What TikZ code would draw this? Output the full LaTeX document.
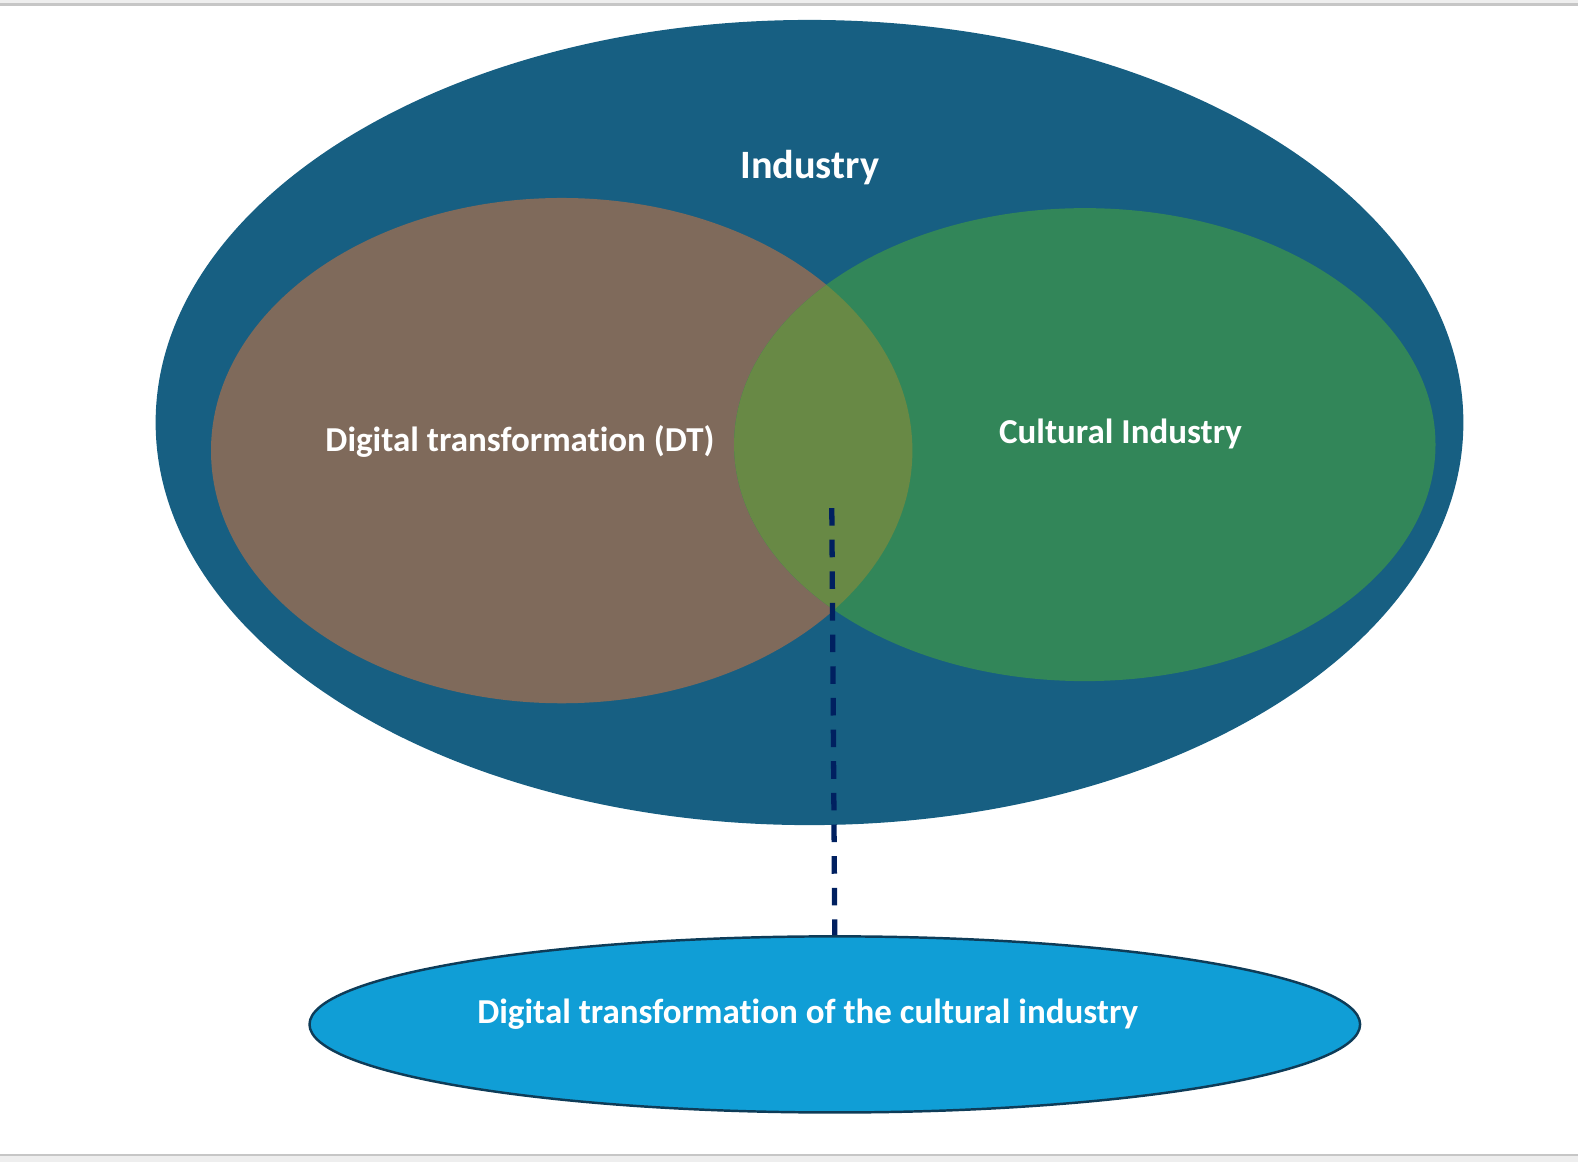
\documentclass[tikz,border=0pt]{standalone}
\usepackage{fontspec}
\setmainfont{Carlito}[Ligatures={NoCommon}]
\usetikzlibrary{shapes.geometric}

\definecolor{industryblue}{RGB}{23,95,130}
\definecolor{dtbrown}{RGB}{127,106,91}
\definecolor{cigreen}{RGB}{50,134,89}
\definecolor{lensolive}{RGB}{104,137,69}
\definecolor{dtciblue}{RGB}{16,158,214}
\definecolor{dtciedge}{RGB}{14,60,88}
\definecolor{linknavy}{RGB}{0,32,96}
\definecolor{framegray}{RGB}{238,238,238}

\begin{document}
\begin{tikzpicture}[x=0.01cm, y=-0.01cm,
    set/.style={ellipse, inner sep=0pt},
    label/.style={text=white, font=\fontsize{9.95}{12}\selectfont\bfseries}]

    \useasboundingbox (0,0) rectangle (1578,1162);
    % screen frame
    \fill[framegray] (0,0) rectangle (1578,4);
    \draw[gray!45, line width=0.6pt] (0,4.5) -- (1578,4.5);
    \fill[framegray] (0,1155) rectangle (1578,1162);
    \draw[gray!45, line width=0.6pt] (0,1155) -- (1578,1155);

    \node [set, fill=industryblue, minimum width=13.07cm, minimum height=8.047cm] (industry) at (809.5,422.5) {};
    \node [set, fill=dtbrown, minimum width=7.01cm, minimum height=5.05cm] (dt) at (561.7,450.6) {};
    \node [set, fill=cigreen, minimum width=7.01cm, minimum height=4.727cm] (ci) at (1084.8,444.6) {};
    % overlap of DT and cultural industry
    \begin{scope}
      \clip (561.7,450.6) ellipse [x radius=3.505cm, y radius=2.525cm];
      \fill[lensolive] (1084.8,444.6) ellipse [x radius=3.505cm, y radius=2.3635cm];
    \end{scope}
    \node [set, fill=dtciblue, draw=dtciedge, line width=0.7pt, minimum width=10.5cm, minimum height=1.76cm] (dtci) at (834.8,1024.4) {};

    \node [label, font=\fontsize{11.45}{13}\selectfont\bfseries] (industrytext) at (809.7,168) {Industry};
    \node [label] (dttext) at (520,441.5) {Digital transformation (DT)};
    \node [label] (citext) at (1120.5,433.5) {Cultural Industry};
    \node [label] (dtcitext) at (807.7,1013.8) {Digital transformation of the cultural industry};

    \coordinate (lens) at (831.8,508);
    \draw [linknavy, line width=1.5pt, dash pattern=on 5pt off 4pt] (lens) -- (dtci.north);
\end{tikzpicture}
\end{document}
